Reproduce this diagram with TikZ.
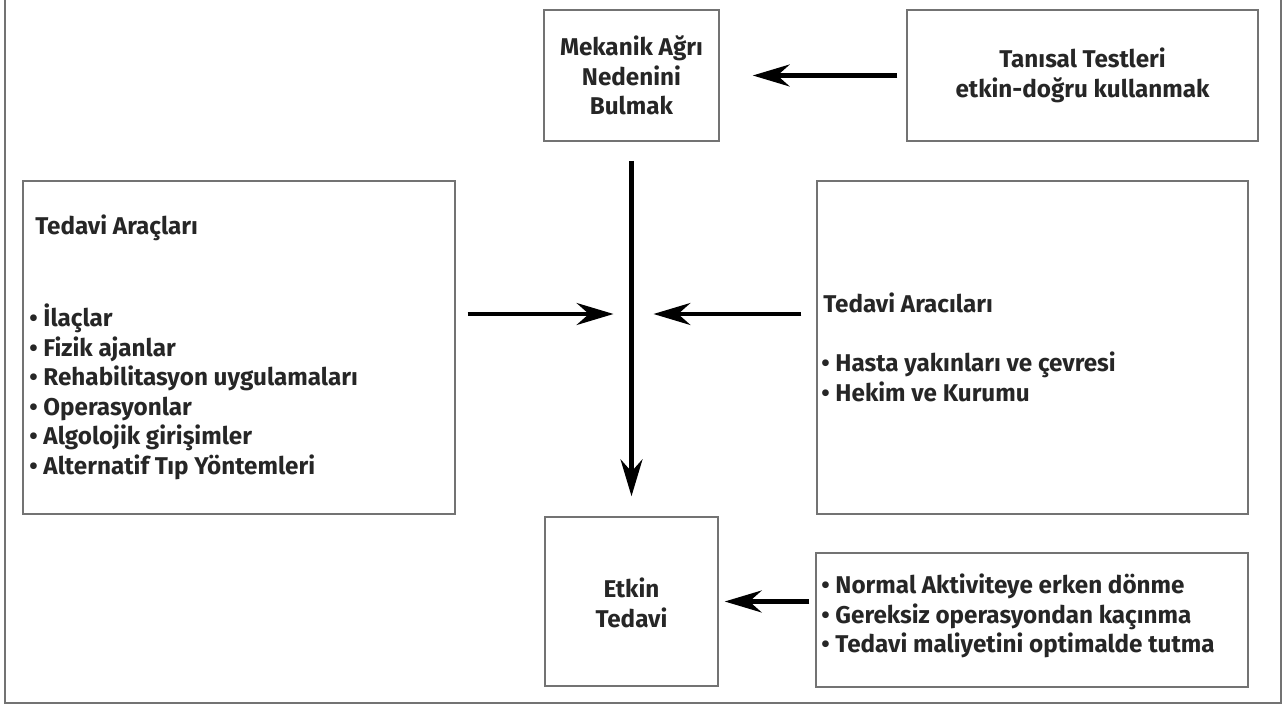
\documentclass[tikz,border=0pt]{standalone}
\usepackage{fontspec}
\setmainfont{Fira Sans}
\usetikzlibrary{arrows.meta}

\begin{document}
\begin{tikzpicture}[x=0.02cm, y=-0.02cm,
    box/.style={draw=black!55, line width=0.9pt, inner sep=0pt},
    txt/.style={font=\fontsize{13.8}{16.8}\selectfont\bfseries, inner sep=0pt, text=black!85},
    flow/.style={line width=2.3pt, -{Stealth[length=21pt, width=12.5pt, inset=7pt]}}]
    \useasboundingbox (0, 0) rectangle (1286, 709);
    \draw[black!55, line width=1pt] (5, -5) rectangle (1281, 703);

    % boxes
    \node[box, minimum width=3.5cm, minimum height=2.62cm] (mek) at (631.5, 75.5) {};
    \node[box, minimum width=7.02cm, minimum height=2.62cm] (tani) at (1082.5, 75.5) {};
    \node[box, minimum width=8.64cm, minimum height=6.66cm] (arac) at (239, 347.5) {};
    \node[box, minimum width=8.62cm, minimum height=6.66cm] (aracil) at (1032.5, 347.5) {};
    \node[box, minimum width=3.46cm, minimum height=3.38cm] (etkin) at (631.5, 601.5) {};
    \node[box, minimum width=8.64cm, minimum height=2.68cm] (hedef) at (1032, 620) {};

    % texts
    \node[txt, align=center] (mekT) at (mek) {Mekanik Ağrı\\Nedenini\\Bulmak};
    \node[txt, align=center] (taniT) at (tani) {Tanısal Testleri\\etkin-doğru kullanmak};
    \node[txt, anchor=west] (aracH) at (35, 228) {Tedavi Araçları};
    \node[txt, anchor=west, align=left] (aracL) at (29, 392) {• İlaçlar\\• Fizik ajanlar\\• Rehabilitasyon uygulamaları\\• Operasyonlar\\• Algolojik girişimler\\• Alternatif Tıp Yöntemleri};
    \node[txt, anchor=west] (aracilH) at (823, 303) {Tedavi Aracıları};
    \node[txt, anchor=west, align=left] (aracilL) at (821, 377) {• Hasta yakınları ve çevresi\\• Hekim ve Kurumu};
    \node[txt, align=center] (etkinT) at (631.5, 603) {Etkin\\Tedavi};
    \node[txt, anchor=west, align=left] (hedefL) at (821, 616) {• Normal Aktiviteye erken dönme\\• Gereksiz operasyondan kaçınma\\• Tedavi maliyetini optimalde tutma};

    % arrows
    \coordinate (hub) at (631.5, 314);
    \draw[flow, shorten <=0.18cm, shorten >=0.66cm] (tani.west) -- (mek.east);
    \draw[flow, shorten <=0.38cm, shorten >=0.4cm] (mek.south) -- (etkin.north);
    \draw[flow, shorten <=0.24cm, shorten >=0.36cm] (arac.east |- hub) -- (hub);
    \draw[flow, shorten <=0.3cm, shorten >=0.44cm] (aracil.west |- hub) -- (hub);
    \draw[flow, shorten <=0.12cm, shorten >=0.12cm] (hedef.west |- etkin) -- (etkin.east);
\end{tikzpicture}
\end{document}
